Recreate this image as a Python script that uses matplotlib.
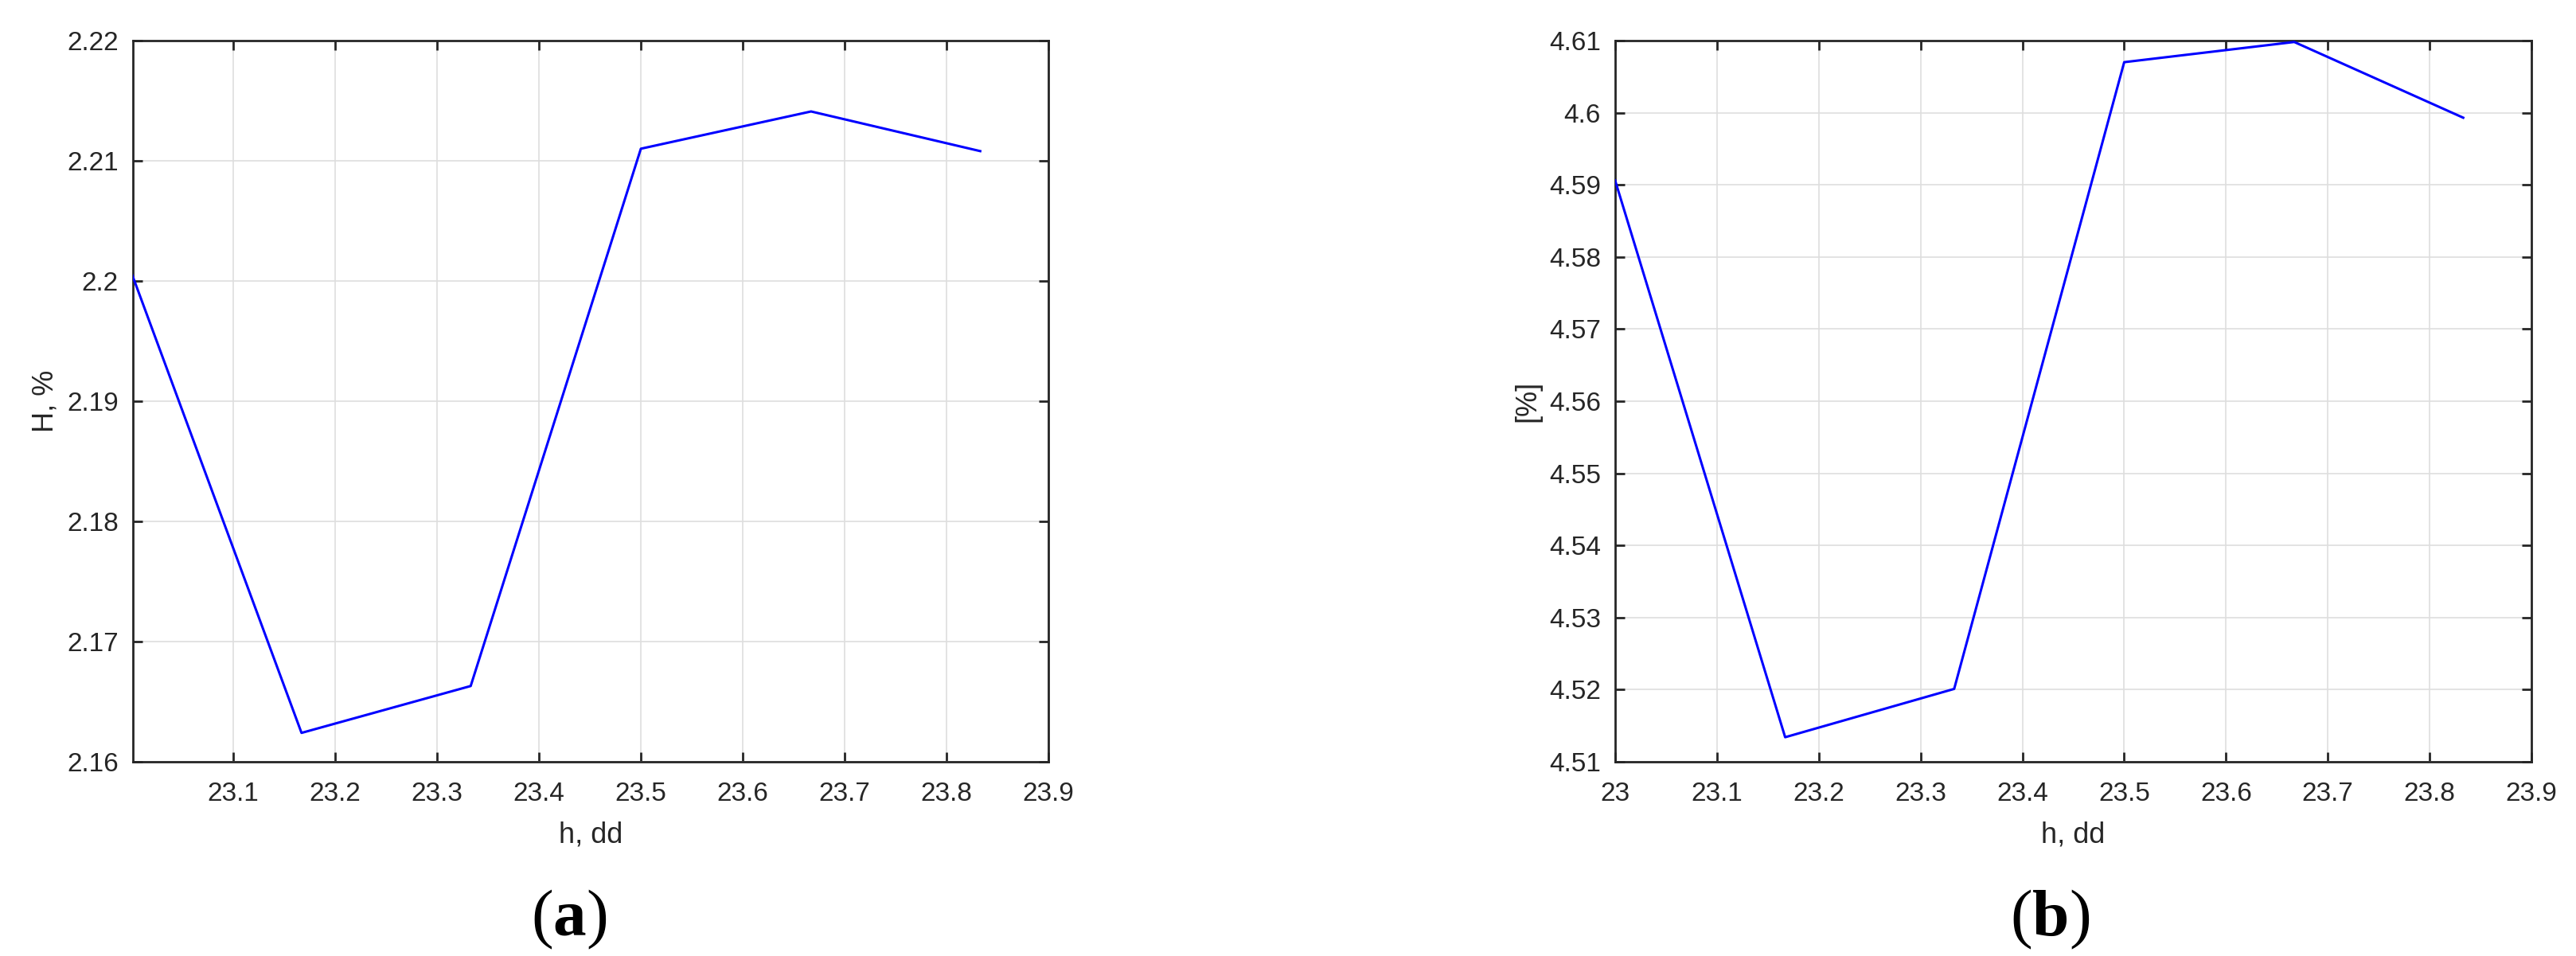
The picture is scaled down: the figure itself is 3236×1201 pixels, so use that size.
import matplotlib.pyplot as plt
from matplotlib.ticker import FormatStrFormatter

plt.rcParams['font.family'] = ['Liberation Sans', 'DejaVu Sans']
plt.rcParams['mathtext.fontset'] = 'custom'
plt.rcParams['mathtext.rm'] = 'Liberation Serif'
plt.rcParams['mathtext.bf'] = 'Liberation Serif:bold'

# data
hours = [23.0, 23.167, 23.333, 23.5, 23.667, 23.833]
h_left = [2.2007, 2.1624, 2.1663, 2.2110, 2.2141, 2.2108]
h_right = [4.5906, 4.5134, 4.5201, 4.6070, 4.6098, 4.5993]

x_ticks = [23.0, 23.1, 23.2, 23.3, 23.4, 23.5, 23.6, 23.7, 23.8, 23.9]
y_ticks_left = [2.16, 2.17, 2.18, 2.19, 2.20, 2.21, 2.22]
y_ticks_right = [4.51, 4.52, 4.53, 4.54, 4.55, 4.56, 4.57, 4.58, 4.59, 4.60, 4.61]

dark = '#262626'
grid_c = '#dedede'

fig = plt.figure(figsize=(32.37, 12.01), dpi=100)
ax1 = fig.add_axes([0.0516, 0.2032, 0.3553, 0.7544])
ax2 = fig.add_axes([0.6268, 0.2032, 0.3556, 0.7544])


def style(ax, yticks, ylabel, xlim):
    ax.set_xticks(x_ticks)
    ax.set_yticks(yticks)
    ax.set_xlim(xlim)
    ax.set_ylim(yticks[0], yticks[-1])
    ax.xaxis.set_major_formatter(FormatStrFormatter('%g'))
    ax.yaxis.set_major_formatter(FormatStrFormatter('%g'))
    ax.grid(True, color=grid_c, linewidth=1.2)
    ax.set_axisbelow(True)
    for s in ax.spines.values():
        s.set_color(dark)
        s.set_linewidth(2.0)
    ax.tick_params(direction='in', length=8.6, width=2.0, colors=dark,
                   top=True, right=True, labelsize=24)
    ax.tick_params(axis='x', pad=18)
    ax.tick_params(axis='y', pad=13)
    ax.set_xlabel('h, dd', fontsize=26, color=dark, labelpad=13)
    ax.set_ylabel(ylabel, fontsize=26, color=dark, labelpad=7)


ax1.plot(hours, h_left, color='#0000ff', linewidth=2.2, zorder=3)
style(ax1, y_ticks_left, 'H, %', (23.0016, 23.9))

ax2.plot(hours, h_right, color='#0000ff', linewidth=2.2, zorder=3)
style(ax2, y_ticks_right, '[%]', (23.0, 23.9))

fig.text(715 / 3237, 1 - 1155 / 1201, r'($\mathbf{a}$)', fontsize=60,
         family='Liberation Serif', ha='center', va='center')
fig.text(2575 / 3237, 1 - 1155 / 1201, r'($\mathbf{b}$)', fontsize=60,
         family='Liberation Serif', ha='center', va='center')

fig.savefig('out.png', dpi=100)
